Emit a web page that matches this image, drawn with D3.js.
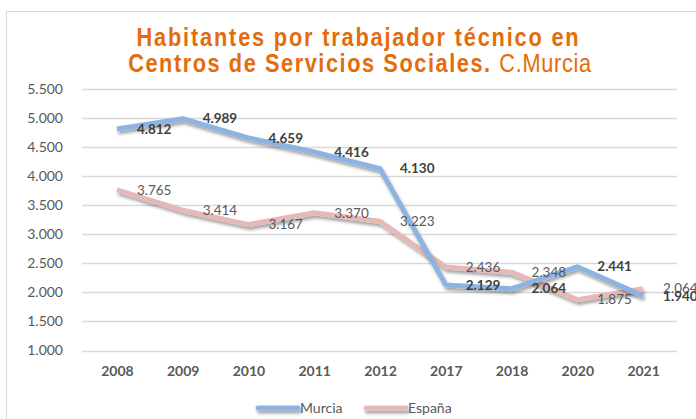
<!DOCTYPE html>
<html><head><meta charset="utf-8">
<script src="https://cdn.jsdelivr.net/npm/d3@7/dist/d3.min.js"></script>
<style>body{margin:0;background:#fff}svg{display:block}</style>
</head><body>
<svg id="c" width="696" height="419"></svg>
<script>
const years = ["2008","2009","2010","2011","2012","2017","2018","2020","2021"];
const murcia = [4812, 4989, 4659, 4416, 4130, 2129, 2064, 2441, 1940];
const espana = [3765, 3414, 3167, 3370, 3223, 2436, 2348, 1875, 2064];
const yTicks = [1000, 1500, 2000, 2500, 3000, 3500, 4000, 4500, 5000, 5500];
const seriesNames = ["Murcia", "España"];

const svg = d3.select("#c");
const fmt = v => d3.format(",.0f")(v).replace(/,/g, ".");

const defs = svg.append("defs");
const f = defs.append("filter").attr("id","sh").attr("filterUnits","userSpaceOnUse")
  .attr("x",0).attr("y",0).attr("width",696).attr("height",419);
f.append("feDropShadow").attr("dx",1.5).attr("dy",3).attr("stdDeviation",1.6).attr("flood-color","#000").attr("flood-opacity",0.35);

svg.append("rect").attr("x",6.5).attr("y",11.5).attr("width",720).attr("height",430)
  .attr("fill","#fff").attr("stroke","#d9d9d9");

const x = d3.scalePoint().domain(years).range([84, 676]).padding(0.5);
const y = d3.scaleLinear().domain([1000, 5500]).range([350.5, 89]);

// grid
svg.append("g").selectAll("line").data(yTicks).join("line")
  .attr("x1", 82).attr("x2", 677)
  .attr("y1", d => Math.round(y(d))+0.5).attr("y2", d => Math.round(y(d))+0.5)
  .attr("stroke", "#d9d9d9").attr("stroke-width", 1.3);

// y axis labels
const yAxis = d3.axisLeft(y).tickValues(yTicks).tickFormat(d => fmt(d)).tickSize(0).tickPadding(0);
const ga = svg.append("g").attr("transform","translate(63,0)").call(yAxis);
ga.select(".domain").remove();
ga.selectAll("text").attr("font-family","Lato, 'Open Sans', sans-serif").attr("font-size",14).attr("fill","#595959");

// x axis labels
const xAxis = d3.axisBottom(x).tickSize(0).tickPadding(0);
const gx = svg.append("g").attr("transform","translate(0,366)").call(xAxis);
gx.select(".domain").remove();
gx.selectAll("text").attr("font-family","Lato, 'Open Sans', sans-serif").attr("font-size",14).attr("font-weight","bold").attr("fill","#595959");

const line = d3.line().x((d,i) => x(years[i])).y(d => y(d));
const colors = ["#8db3e2", "#e6b9b8"];
[espana, murcia].forEach((s, k) => {
  svg.append("path").datum(s).attr("d", line).attr("fill","none")
    .attr("stroke", k === 0 ? colors[1] : colors[0]).attr("stroke-width", 5)
    .attr("stroke-linejoin","round").attr("filter","url(#sh)");
});

// labels
const lab = (s, bold, col) => svg.append("g").selectAll("text").data(s).join("text")
  .attr("x", (d,i) => x(years[i]) + 20).attr("y", d => y(d)).attr("dy","0.35em")
  .attr("font-family","Lato, 'Open Sans', sans-serif").attr("font-size",13.5)
  .attr("font-weight", bold ? "bold" : "normal").attr("fill", col).text(d => fmt(d));
lab(espana, false, "#595959");
lab(murcia, true, "#404040");

// title
const tf = "'Liberation Sans', Arial, sans-serif";
const t1 = svg.append("text").attr("text-anchor","middle").attr("fill","#e46c0a")
  .attr("font-family", tf).attr("font-size",25).attr("font-weight","bold").attr("letter-spacing",2.1)
  .attr("transform","translate(358.5,46) scale(0.87,1)").attr("x",0).attr("y",0)
  .text("Habitantes por trabajador técnico en");
const t2 = svg.append("text").attr("text-anchor","middle").attr("fill","#e46c0a")
  .attr("font-family", tf).attr("font-size",25)
  .attr("transform","translate(360,72) scale(0.87,1)").attr("x",0).attr("y",0);
t2.append("tspan").attr("font-weight","bold").attr("letter-spacing",1.8).text("Centros de Servicios Sociales. ");
t2.append("tspan").attr("font-weight","normal").attr("letter-spacing",0.8).text("C.Murcia");

// legend
const lg = svg.append("g").attr("font-family","Lato, 'Open Sans', sans-serif").attr("font-size",14).attr("fill","#595959");
const items = [{n: seriesNames[0], c: colors[0], x: 258}, {n: seriesNames[1], c: colors[1], x: 366}];
items.forEach(it => {
  lg.append("line").attr("x1", it.x).attr("x2", it.x+40).attr("y1",408).attr("y2",408)
    .attr("stroke", it.c).attr("stroke-width",5).attr("stroke-linecap","round").attr("filter","url(#sh)");
  lg.append("text").attr("x", it.x+42).attr("y",408).attr("dy","0.35em").text(it.n);
});
</script>
</body></html>
